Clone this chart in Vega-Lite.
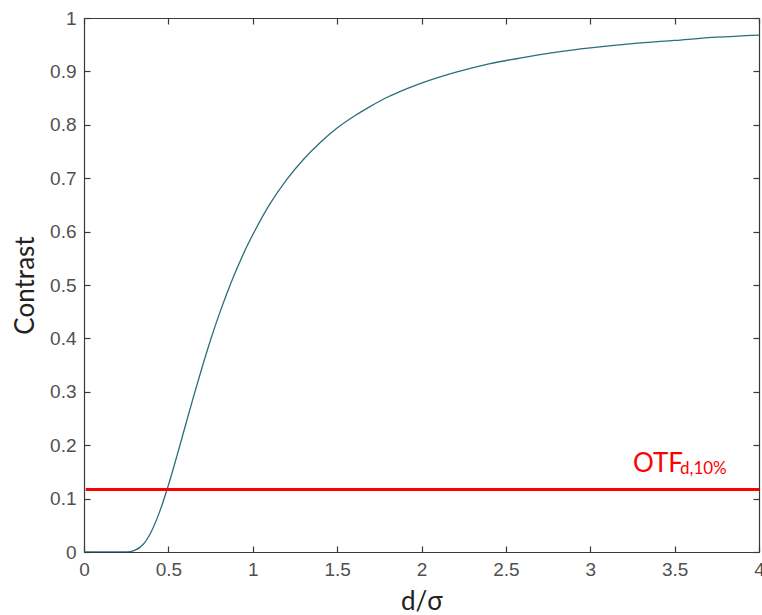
{
  "$schema": "https://vega.github.io/schema/vega-lite/v6.json",
  "width": 675,
  "height": 534,
  "autosize": {"type": "none"},
  "padding": {"left": 84, "top": 18, "right": 3, "bottom": 63},
  "background": "white",
  "config": {
    "view": {"stroke": null},
    "axis": {
      "grid": false,
      "domainColor": "#3a3a3a",
      "domainWidth": 1.2,
      "tickColor": "#3a3a3a",
      "tickWidth": 1.2,
      "tickSize": -6,
      "labelColor": "#505050",
      "labelFont": "Liberation Sans",
      "labelFontSize": 19,
      "titleFont": "Lato",
      "titleFontWeight": "normal",
      "titleColor": "#222222",
      "titleFontSize": 26
    }
  },
  "datasets": {
    "curve": [
      {"d": 0, "contrast": 0},
      {"d": 0.1, "contrast": 0},
      {"d": 0.2, "contrast": 0},
      {"d": 0.25, "contrast": 0},
      {"d": 0.3, "contrast": 0.003},
      {"d": 0.35, "contrast": 0.014},
      {"d": 0.4, "contrast": 0.039},
      {"d": 0.45, "contrast": 0.077},
      {"d": 0.5, "contrast": 0.125},
      {"d": 0.55, "contrast": 0.179},
      {"d": 0.6, "contrast": 0.236},
      {"d": 0.65, "contrast": 0.292},
      {"d": 0.7, "contrast": 0.346},
      {"d": 0.75, "contrast": 0.397},
      {"d": 0.8, "contrast": 0.444},
      {"d": 0.85, "contrast": 0.487},
      {"d": 0.9, "contrast": 0.526},
      {"d": 0.95, "contrast": 0.562},
      {"d": 1.0, "contrast": 0.594},
      {"d": 1.1, "contrast": 0.651},
      {"d": 1.2, "contrast": 0.697},
      {"d": 1.3, "contrast": 0.735},
      {"d": 1.4, "contrast": 0.767},
      {"d": 1.5, "contrast": 0.794},
      {"d": 1.6, "contrast": 0.816},
      {"d": 1.7, "contrast": 0.835},
      {"d": 1.8, "contrast": 0.852},
      {"d": 1.9, "contrast": 0.866},
      {"d": 2.0, "contrast": 0.878},
      {"d": 2.2, "contrast": 0.898},
      {"d": 2.4, "contrast": 0.914},
      {"d": 2.6, "contrast": 0.926},
      {"d": 2.8, "contrast": 0.936},
      {"d": 3.0, "contrast": 0.944},
      {"d": 3.25, "contrast": 0.952},
      {"d": 3.5, "contrast": 0.958},
      {"d": 3.75, "contrast": 0.964},
      {"d": 4.0, "contrast": 0.968}
    ],
    "threshold": [
      {"d": 0.01, "contrast": 0.117},
      {"d": 4.0, "contrast": 0.117}
    ],
    "labels": [
      {"d": 3.253, "contrast": 0.1504, "text": "OTF", "part": "main"},
      {"d": 3.532, "contrast": 0.146, "text": "d,10%", "part": "sub"}
    ]
  },
  "resolve": {"axis": {"x": "independent", "y": "independent"}},
  "layer": [
    {
      "data": {"name": "curve"},
      "mark": {"type": "line", "color": "#2c6e7c", "strokeWidth": 1.3, "interpolate": "monotone", "clip": true},
      "encoding": {
        "x": {
          "field": "d", "type": "quantitative",
          "scale": {"domain": [0, 4], "nice": false, "zero": false},
          "axis": {"values": [0, 0.5, 1, 1.5, 2, 2.5, 3, 3.5, 4], "format": "~g", "title": "d/σ", "labelPadding": 14, "titlePadding": 9, "labelFlush": false}
        },
        "y": {
          "field": "contrast", "type": "quantitative",
          "scale": {"domain": [0, 1], "nice": false},
          "axis": {"values": [0, 0.1, 0.2, 0.3, 0.4, 0.5, 0.6, 0.7, 0.8, 0.9, 1], "format": "~g", "title": "Contrast", "labelPadding": 14, "titlePadding": 11, "labelFlush": false}
        }
      }
    },
    {
      "data": {"name": "curve"},
      "mark": {"type": "line", "opacity": 0},
      "encoding": {
        "x": {"field": "d", "type": "quantitative", "axis": {"orient": "top", "values": [0, 0.5, 1, 1.5, 2, 2.5, 3, 3.5, 4], "labels": false, "title": null}},
        "y": {"field": "contrast", "type": "quantitative", "axis": {"orient": "right", "values": [0, 0.1, 0.2, 0.3, 0.4, 0.5, 0.6, 0.7, 0.8, 0.9, 1], "labels": false, "title": null}}
      }
    },
    {
      "data": {"name": "threshold"},
      "mark": {"type": "line", "color": "#ff0000", "strokeWidth": 3},
      "encoding": {
        "x": {"field": "d", "type": "quantitative", "axis": null},
        "y": {"field": "contrast", "type": "quantitative", "axis": null}
      }
    },
    {
      "data": {"name": "labels"},
      "mark": {"type": "text", "color": "#ff0000", "font": "Lato", "align": "left", "baseline": "alphabetic"},
      "encoding": {
        "x": {"field": "d", "type": "quantitative", "axis": null},
        "y": {"field": "contrast", "type": "quantitative", "axis": null},
        "text": {"field": "text"},
        "size": {"field": "part", "type": "nominal", "scale": {"domain": ["main", "sub"], "range": [26, 17]}, "legend": null}
      }
    }
  ]
}
